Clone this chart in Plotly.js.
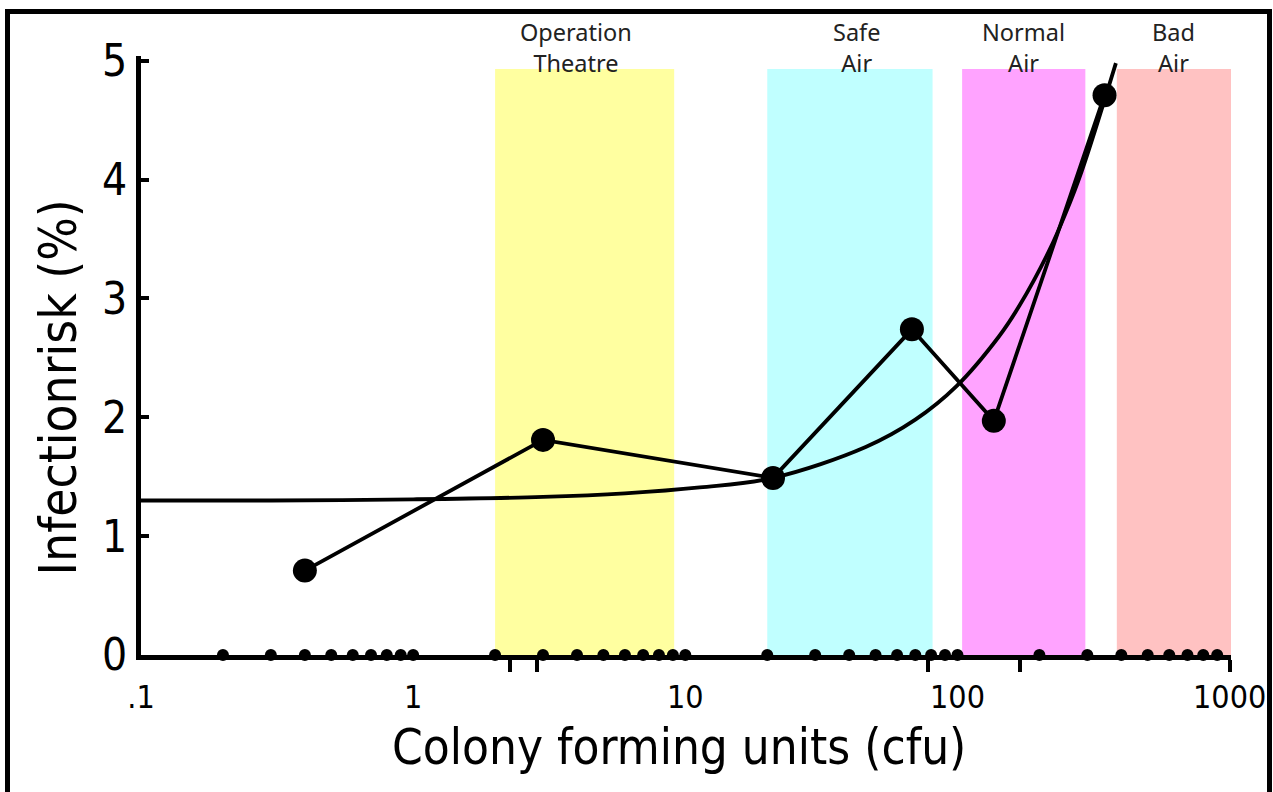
<!DOCTYPE html>
<html><head><meta charset="utf-8">
<script src="https://cdn.plot.ly/plotly-3.0.1.min.js"></script>
<style>
html,body{margin:0;padding:0;background:#fff;}
#chart{width:1273px;height:792px;}
#frame{position:absolute;left:5px;top:9px;width:1257px;height:800px;border:5px solid #000;border-bottom:none;pointer-events:none;}
</style></head><body>
<div id="chart"></div><div id="frame"></div>
<script>
// Air-quality bands (cfu range)
const bandNames = ['Operation<br>Theatre', 'Safe<br>Air', 'Normal<br>Air', 'Bad<br>Air'];
const bandStart = [2, 20, 104, 385];
const bandEnd = [9.1, 81, 295, 1030];
const bandTop = 4.93;
const bandColors = ['#FFFFA0', '#C0FFFF', '#FFA3FF', '#FFC2C2'];
const bandLabelX = [3.98, 42.4, 175, 623];

// Measured infection risk
const cfu = [0.4, 3, 21, 68, 136, 347];
const risk = [0.71, 1.81, 1.49, 2.74, 1.97, 4.71];

// Trend curve
const trendCfu = [0.1, 0.3, 1, 3, 6, 11.3, 21, 46, 70, 99, 142, 169, 217, 250, 286, 382];
const trendRisk = [1.30, 1.30, 1.31, 1.33, 1.36, 1.41, 1.49, 1.75, 1.98, 2.26, 2.68, 2.94, 3.40, 3.72, 4.07, 4.98];

// Sample points on the axis
const sampleCfu = [0.2, 0.3, 0.4, 0.5, 0.6, 0.7, 0.8, 0.9, 1,
                   2, 3, 4, 5, 6, 7, 8, 9, 10,
                   20, 30, 40, 50, 60, 70, 80, 90, 100,
                   200, 300, 400, 500, 600, 700, 800, 900];
const sampleRisk = sampleCfu.map(() => 0);

// Axis ticks
const xTickVals = [0.1, 1, 10, 100, 1000];
const xTickText = ['.1', '1', '10', '100', '1000'];
const xMarkVals = [2.26, 2.86, 78, 169, 1000];
const yTickVals = [0, 1, 2, 3, 4, 5];

const FONT = '"DejaVu Sans Condensed", "DejaVu Sans", sans-serif';

const traces = [];
bandNames.forEach((n, i) => {
  traces.push({
    type: 'scatter', mode: 'lines',
    x: [bandStart[i], bandEnd[i], bandEnd[i], bandStart[i], bandStart[i]],
    y: [0, 0, bandTop, bandTop, 0],
    fill: 'toself', fillcolor: bandColors[i],
    line: {width: 0, color: bandColors[i]},
    hoverinfo: 'skip', showlegend: false
  });
});
traces.push({
  type: 'scatter', mode: 'markers', x: sampleCfu, y: sampleRisk,
  marker: {size: 12, color: '#000'}, cliponaxis: false, showlegend: false
});
traces.push({
  type: 'scatter', mode: 'lines', x: trendCfu, y: trendRisk,
  line: {color: '#000', width: 3.8, shape: 'spline', smoothing: 1},
  cliponaxis: false, showlegend: false
});
traces.push({
  type: 'scatter', mode: 'lines+markers', x: cfu, y: risk,
  line: {color: '#000', width: 3.8},
  marker: {size: 24, color: '#000'}, cliponaxis: false, showlegend: false
});

const annotations = bandNames.map((n, i) => ({
  x: Math.log10(bandLabelX[i]), y: 1.0134, xref: 'x', yref: 'paper',
  text: n, showarrow: false, xanchor: 'center', yanchor: 'middle',
  font: {family: '"Noto Sans", sans-serif', size: 23.5, color: '#222'}
}));
annotations.push({
  x: 0.494, y: -0.155, xref: 'paper', yref: 'paper',
  text: 'Colony forming units (cfu)', showarrow: false,
  xanchor: 'center', yanchor: 'middle',
  font: {family: FONT, size: 49, color: '#000'}
});
annotations.push({
  x: -0.076, y: 0.447, xref: 'paper', yref: 'paper',
  text: 'Infectionrisk (%)', showarrow: false, textangle: -90,
  xanchor: 'center', yanchor: 'middle',
  font: {family: FONT, size: 51, color: '#000'}
});

const layout = {
  width: 1273, height: 792,
  margin: {l: 141, r: 42, t: 56, b: 137},
  paper_bgcolor: '#fff', plot_bgcolor: '#fff',
  showlegend: false,
  xaxis: {
    type: 'log', range: [-1, 3.005],
    tickmode: 'array', tickvals: xTickVals, ticktext: xTickText,
    ticks: '', showgrid: false, zeroline: false,
    showline: true, linewidth: 5, linecolor: '#000',
    tickfont: {family: FONT, size: 32, color: '#000'},
    ticklabelstandoff: 10,
    minor: {tickmode: 'array', tickvals: xMarkVals, ticks: 'outside',
            ticklen: 12, tickwidth: 4, tickcolor: '#000', showgrid: false},
    layer: 'above traces'
  },
  yaxis: {
    range: [0, 5.04], tickmode: 'array', tickvals: yTickVals,
    ticks: 'inside', ticklen: 8, tickwidth: 4, tickcolor: '#000',
    showgrid: false, zeroline: false,
    showline: true, linewidth: 5, linecolor: '#000',
    tickfont: {family: FONT, size: 44, color: '#000'},
    layer: 'above traces'
  },
  annotations: annotations
};

Plotly.newPlot('chart', traces, layout, {displayModeBar: false, staticPlot: true});
</script></body></html>
